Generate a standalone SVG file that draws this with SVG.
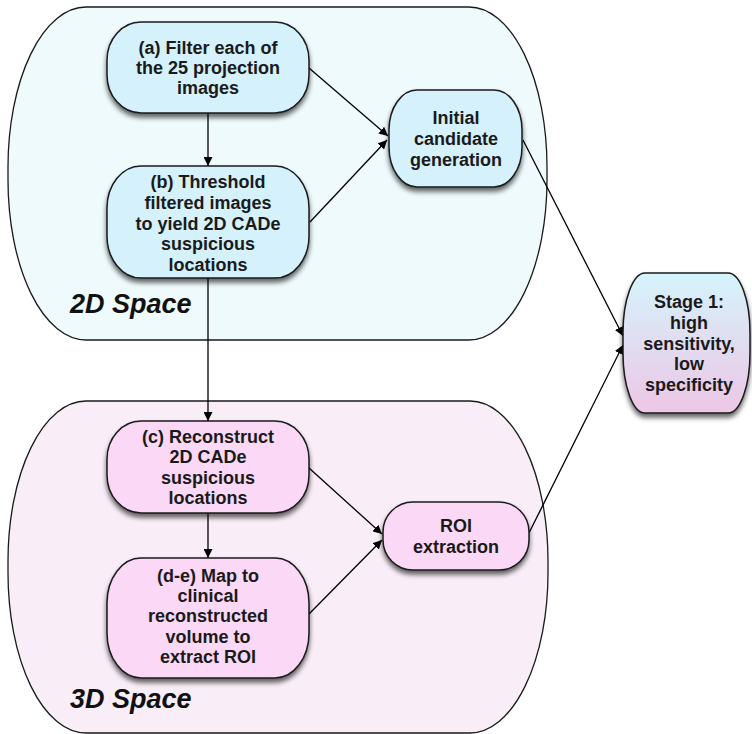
<svg xmlns="http://www.w3.org/2000/svg" width="752" height="734" viewBox="0 0 752 734">
<defs>
<style>
.cont{stroke:#1a1a1a;stroke-width:1.3}
.blue{fill:#d5f1fb}
.pink{fill:#fbd8f6}
.node{stroke:#1a1a1a;stroke-width:1.5;filter:url(#sh)}
.t{font-family:"Liberation Sans",Arial,sans-serif;font-weight:bold;font-size:18px;fill:#1a1a1a;text-anchor:middle}
.big{font-family:"Liberation Sans",Arial,sans-serif;font-weight:bold;font-style:italic;font-size:27px;fill:#111}
.c{stroke:#000;stroke-width:1.3;fill:none;marker-end:url(#ah)}
</style>
<filter id="sh" x="-20%" y="-20%" width="140%" height="150%">
<feGaussianBlur in="SourceAlpha" stdDeviation="2.5"/>
<feOffset dx="0" dy="4" result="b"/>
<feComponentTransfer><feFuncA type="linear" slope="0.6"/></feComponentTransfer>
<feMerge><feMergeNode/><feMergeNode in="SourceGraphic"/></feMerge>
</filter>
<linearGradient id="g1" x1="0" y1="0" x2="0" y2="1">
<stop offset="0" stop-color="#d5f4fc"/>
<stop offset="1" stop-color="#edc6e6"/>
</linearGradient>
<marker id="ah" viewBox="0 0 10 10" refX="10" refY="5" markerWidth="9" markerHeight="9" markerUnits="userSpaceOnUse" orient="auto">
<path d="M0,0 L10,5 L0,10 z" fill="#000"/>
</marker>
</defs>
<g id="space2d">
<rect class="cont" x="8" y="7" width="539" height="333" rx="78" ry="160" fill="#eefafb"/>
<text class="big" x="70" y="313">2D Space</text>
</g>
<g id="space3d">
<rect class="cont" x="8" y="401" width="540" height="332" rx="78" ry="160" fill="#f9eef7"/>
<text class="big" x="70" y="708">3D Space</text>
</g>
<g id="connectors">
<line class="c" x1="208" y1="113" x2="208" y2="166"/>
<line class="c" x1="309" y1="68" x2="388" y2="136"/>
<line class="c" x1="310" y1="222" x2="387" y2="140"/>
<line class="c" x1="208" y1="278" x2="208" y2="421"/>
<line class="c" x1="523" y1="140" x2="623" y2="336"/>
<line class="c" x1="529" y1="533" x2="623" y2="345"/>
<line class="c" x1="208" y1="513" x2="208" y2="558"/>
<line class="c" x1="309" y1="468" x2="382" y2="534"/>
<line class="c" x1="309" y1="614" x2="382" y2="540"/>
</g>
<g id="nodeA">
<rect class="node blue" x="107" y="22" width="202" height="91" rx="34" ry="38"/>
<text class="t" x="208" y="54">(a) Filter each of</text>
<text class="t" x="208" y="74">the 25 projection</text>
<text class="t" x="208" y="94">images</text>
</g>
<g id="nodeB">
<rect class="node blue" x="107" y="166" width="202" height="112" rx="34" ry="42"/>
<text class="t" x="208" y="188">(b) Threshold</text>
<text class="t" x="208" y="209">filtered images</text>
<text class="t" x="208" y="230">to yield 2D CADe</text>
<text class="t" x="208" y="250">suspicious</text>
<text class="t" x="208" y="271">locations</text>
</g>
<g id="nodeInit">
<rect class="node blue" x="389" y="90" width="133" height="97" rx="28" ry="40"/>
<text class="t" x="456" y="124">Initial</text>
<text class="t" x="456" y="145">candidate</text>
<text class="t" x="456" y="166">generation</text>
</g>
<g id="nodeStage">
<rect class="node" x="623" y="273" width="127" height="140" rx="22" ry="60" fill="url(#g1)"/>
<text class="t" x="689" y="308">Stage 1:</text>
<text class="t" x="689" y="329">high</text>
<text class="t" x="689" y="350">sensitivity,</text>
<text class="t" x="689" y="370">low</text>
<text class="t" x="689" y="391">specificity</text>
</g>
<g id="nodeC">
<rect class="node pink" x="107" y="421" width="202" height="92" rx="34" ry="38"/>
<text class="t" x="208" y="443">(c) Reconstruct</text>
<text class="t" x="208" y="463">2D CADe</text>
<text class="t" x="208" y="484">suspicious</text>
<text class="t" x="208" y="504">locations</text>
</g>
<g id="nodeDE">
<rect class="node pink" x="107" y="558" width="202" height="120" rx="34" ry="45"/>
<text class="t" x="208" y="582">(d-e) Map to</text>
<text class="t" x="208" y="602">clinical</text>
<text class="t" x="208" y="622">reconstructed</text>
<text class="t" x="208" y="643">volume to</text>
<text class="t" x="208" y="663">extract ROI</text>
</g>
<g id="nodeROI">
<rect class="node pink" x="383" y="502" width="146" height="68" rx="30" ry="30"/>
<text class="t" x="456" y="532">ROI</text>
<text class="t" x="456" y="553">extraction</text>
</g>
</svg>
